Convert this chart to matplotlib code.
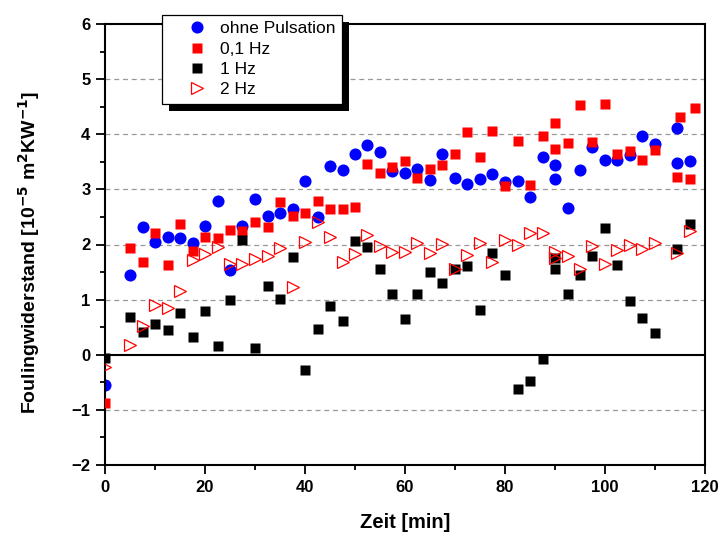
import numpy as np
import matplotlib
matplotlib.use("Agg")
import matplotlib.pyplot as plt
from matplotlib.patches import Rectangle
from matplotlib.lines import Line2D
from matplotlib.legend_handler import HandlerLine2D
from matplotlib.transforms import IdentityTransform
from matplotlib.ticker import MultipleLocator

plt.rcParams['font.family'] = ['Liberation Sans', 'DejaVu Sans']

# Werte
zeit_ohne = [0, 5, 7.5, 10, 12.5, 15, 17.5, 20, 22.5, 25, 27.5, 30, 32.5, 35, 37.5, 40, 42.5, 45,
             47.5, 50, 52.5, 55, 57.5, 60, 62.5, 65, 67.5, 70, 72.5, 75, 77.5, 80, 82.5, 85, 87.5,
             90, 90, 92.5, 95, 97.5, 100, 102.5, 105, 107.5, 110, 114.5, 114.5, 117]
rf_ohne = [-0.55, 1.44, 2.31, 2.05, 2.14, 2.12, 2.02, 2.34, 2.79, 1.53, 2.34, 2.82, 2.51, 2.57, 2.65,
           3.16, 2.49, 3.42, 3.35, 3.64, 3.80, 3.68, 3.33, 3.30, 3.37, 3.17, 3.64, 3.21, 3.09, 3.19,
           3.27, 3.13, 3.16, 2.87, 3.58, 3.44, 3.18, 2.67, 3.36, 3.76, 3.53, 3.54, 3.62, 3.97, 3.82,
           3.48, 4.12, 3.51]

zeit_01hz = [0, 5, 7.5, 10, 12.5, 15, 17.5, 20, 22.5, 25, 27.5, 30, 32.5, 35, 37.5, 40, 42.5, 45,
             47.5, 50, 52.5, 55, 57.5, 60, 62.5, 65, 67.5, 70, 72.5, 75, 77.5, 80, 82.5, 85, 87.5,
             90, 90, 92.5, 95, 97.5, 100, 102.5, 105, 107.5, 110, 114.5, 115, 117, 118]
rf_01hz = [-0.88, 1.93, 1.68, 2.20, 1.62, 2.37, 1.88, 2.14, 2.11, 2.26, 2.24, 2.41, 2.31, 2.78, 2.52,
           2.58, 2.79, 2.64, 2.64, 2.68, 3.46, 3.30, 3.40, 3.52, 3.20, 3.37, 3.45, 3.64, 4.04, 3.59,
           4.05, 3.06, 3.87, 3.08, 3.96, 4.21, 3.73, 3.84, 4.53, 3.86, 4.54, 3.65, 3.69, 3.53, 3.71,
           3.22, 4.31, 3.19, 4.48]

zeit_1hz = [0, 5, 7.5, 10, 12.5, 15, 17.5, 20, 22.5, 25, 27.5, 30, 32.5, 35, 37.5, 40, 42.5, 45,
            47.5, 50, 52.5, 55, 57.5, 60, 62.5, 65, 67.5, 70, 72.5, 75, 77.5, 80, 82.5, 85, 87.5,
            90, 90, 92.5, 95, 97.5, 100, 102.5, 105, 107.5, 110, 114.5, 117]
rf_1hz = [-0.05, 0.68, 0.42, 0.55, 0.44, 0.76, 0.33, 0.80, 0.15, 1.00, 2.09, 0.12, 1.25, 1.02, 1.78,
          -0.28, 0.47, 0.88, 0.62, 2.07, 1.96, 1.55, 1.10, 0.65, 1.10, 1.50, 1.31, 1.56, 1.61, 0.82,
          1.84, 1.44, -0.63, -0.47, -0.08, 1.56, 1.76, 1.10, 1.44, 1.80, 2.30, 1.62, 0.97, 0.67, 0.39,
          1.91, 2.38]

zeit_2hz = [0, 5, 7.5, 10, 12.5, 15, 17.5, 20, 22.5, 25, 27.5, 30, 32.5, 35, 37.5, 40, 42.5, 45,
            47.5, 50, 52.5, 55, 57.5, 60, 62.5, 65, 67.5, 70, 72.5, 75, 77.5, 80, 82.5, 85, 87.5,
            90, 90, 92.5, 95, 97.5, 100, 102.5, 105, 107.5, 110, 114.5, 117]
rf_2hz = [-0.22, 0.18, 0.53, 0.91, 0.85, 1.16, 1.71, 1.82, 1.95, 1.64, 1.65, 1.73, 1.80, 1.93, 1.22,
          2.04, 2.41, 2.14, 1.69, 1.83, 2.17, 1.98, 1.87, 1.87, 2.03, 1.84, 2.01, 1.55, 1.81, 2.02,
          1.68, 2.08, 2.00, 2.20, 2.20, 1.87, 1.75, 1.79, 1.55, 1.98, 1.64, 1.90, 2.00, 1.91, 2.02,
          1.85, 2.25]

labels = ["ohne Pulsation", "0,1 Hz", "1 Hz", "2 Hz"]

fig = plt.figure(figsize=(7.22, 5.34), dpi=100)
ax = fig.add_axes([105 / 722, 69 / 534, 600 / 722, 441 / 534])

# Gitterlinien und Nulllinie
for yg in [-1, 1, 2, 3, 4, 5]:
    ax.axhline(yg, color='#999999', lw=0.9, ls=(0, (4, 3)), zorder=0)
ax.axhline(0, color='black', lw=1.5, zorder=1)

ax.plot(zeit_ohne, rf_ohne, 'o', color='#0000ff', ms=8.7, mec='none', label=labels[0], zorder=2)
ax.plot(zeit_01hz, rf_01hz, 's', color='#ff0000', ms=7.6, mec='none', label=labels[1], zorder=3)
ax.plot(zeit_1hz, rf_1hz, 's', color='black', ms=7.4, mec='none', label=labels[2], zorder=4)
ax.plot(zeit_2hz, rf_2hz, '>', mfc='none', mec='#ff0000', mew=0.9, ms=9, label=labels[3], zorder=4.5)

ax.set_xlim(0, 120)
ax.set_ylim(-2, 6)
ax.xaxis.set_major_locator(MultipleLocator(20))
ax.xaxis.set_minor_locator(MultipleLocator(10))
ax.yaxis.set_major_locator(MultipleLocator(1))
ax.yaxis.set_minor_locator(MultipleLocator(0.5))

for s in ax.spines.values():
    s.set_linewidth(1.5)
ax.tick_params(which='major', direction='out', length=6.5, width=1.3, labelsize=12, pad=4)
ax.tick_params(which='minor', direction='out', length=3.5, width=1.3)
for lab in ax.get_xticklabels() + ax.get_yticklabels():
    lab.set_fontweight('bold')

ax.set_xlabel("Zeit [min]", fontsize=14.5, fontweight='bold')
ax.xaxis.set_label_coords(0.5, -0.108)
ax.set_ylabel(r"Foulingwiderstand [10$^{\mathbf{-5}}$ m$^{\mathbf{2}}$KW$^{\mathbf{-1}}$]",
              fontsize=14, fontweight='bold')
ax.yaxis.set_label_coords(-0.105, 0.483)

leg = ax.legend(loc='upper left', bbox_to_anchor=(0.095, 1.02), borderaxespad=0,
                fancybox=False, framealpha=1, edgecolor='black', fontsize=12.5,
                handletextpad=0.5, labelspacing=0.3, borderpad=0.35, handlelength=2.49,
                handler_map={Line2D: HandlerLine2D(numpoints=1, xpad=0.84)})
leg.get_frame().set_linewidth(0.9)
leg.set_zorder(10)

# Schatten der Legende
fig.canvas.draw()
bb = leg.get_window_extent()
ax.add_patch(Rectangle((bb.x0 + 7, bb.y0 - 7), bb.width, bb.height, transform=IdentityTransform(),
                       facecolor='black', edgecolor='none', clip_on=False, zorder=9))

fig.savefig("out.png", dpi=100)
